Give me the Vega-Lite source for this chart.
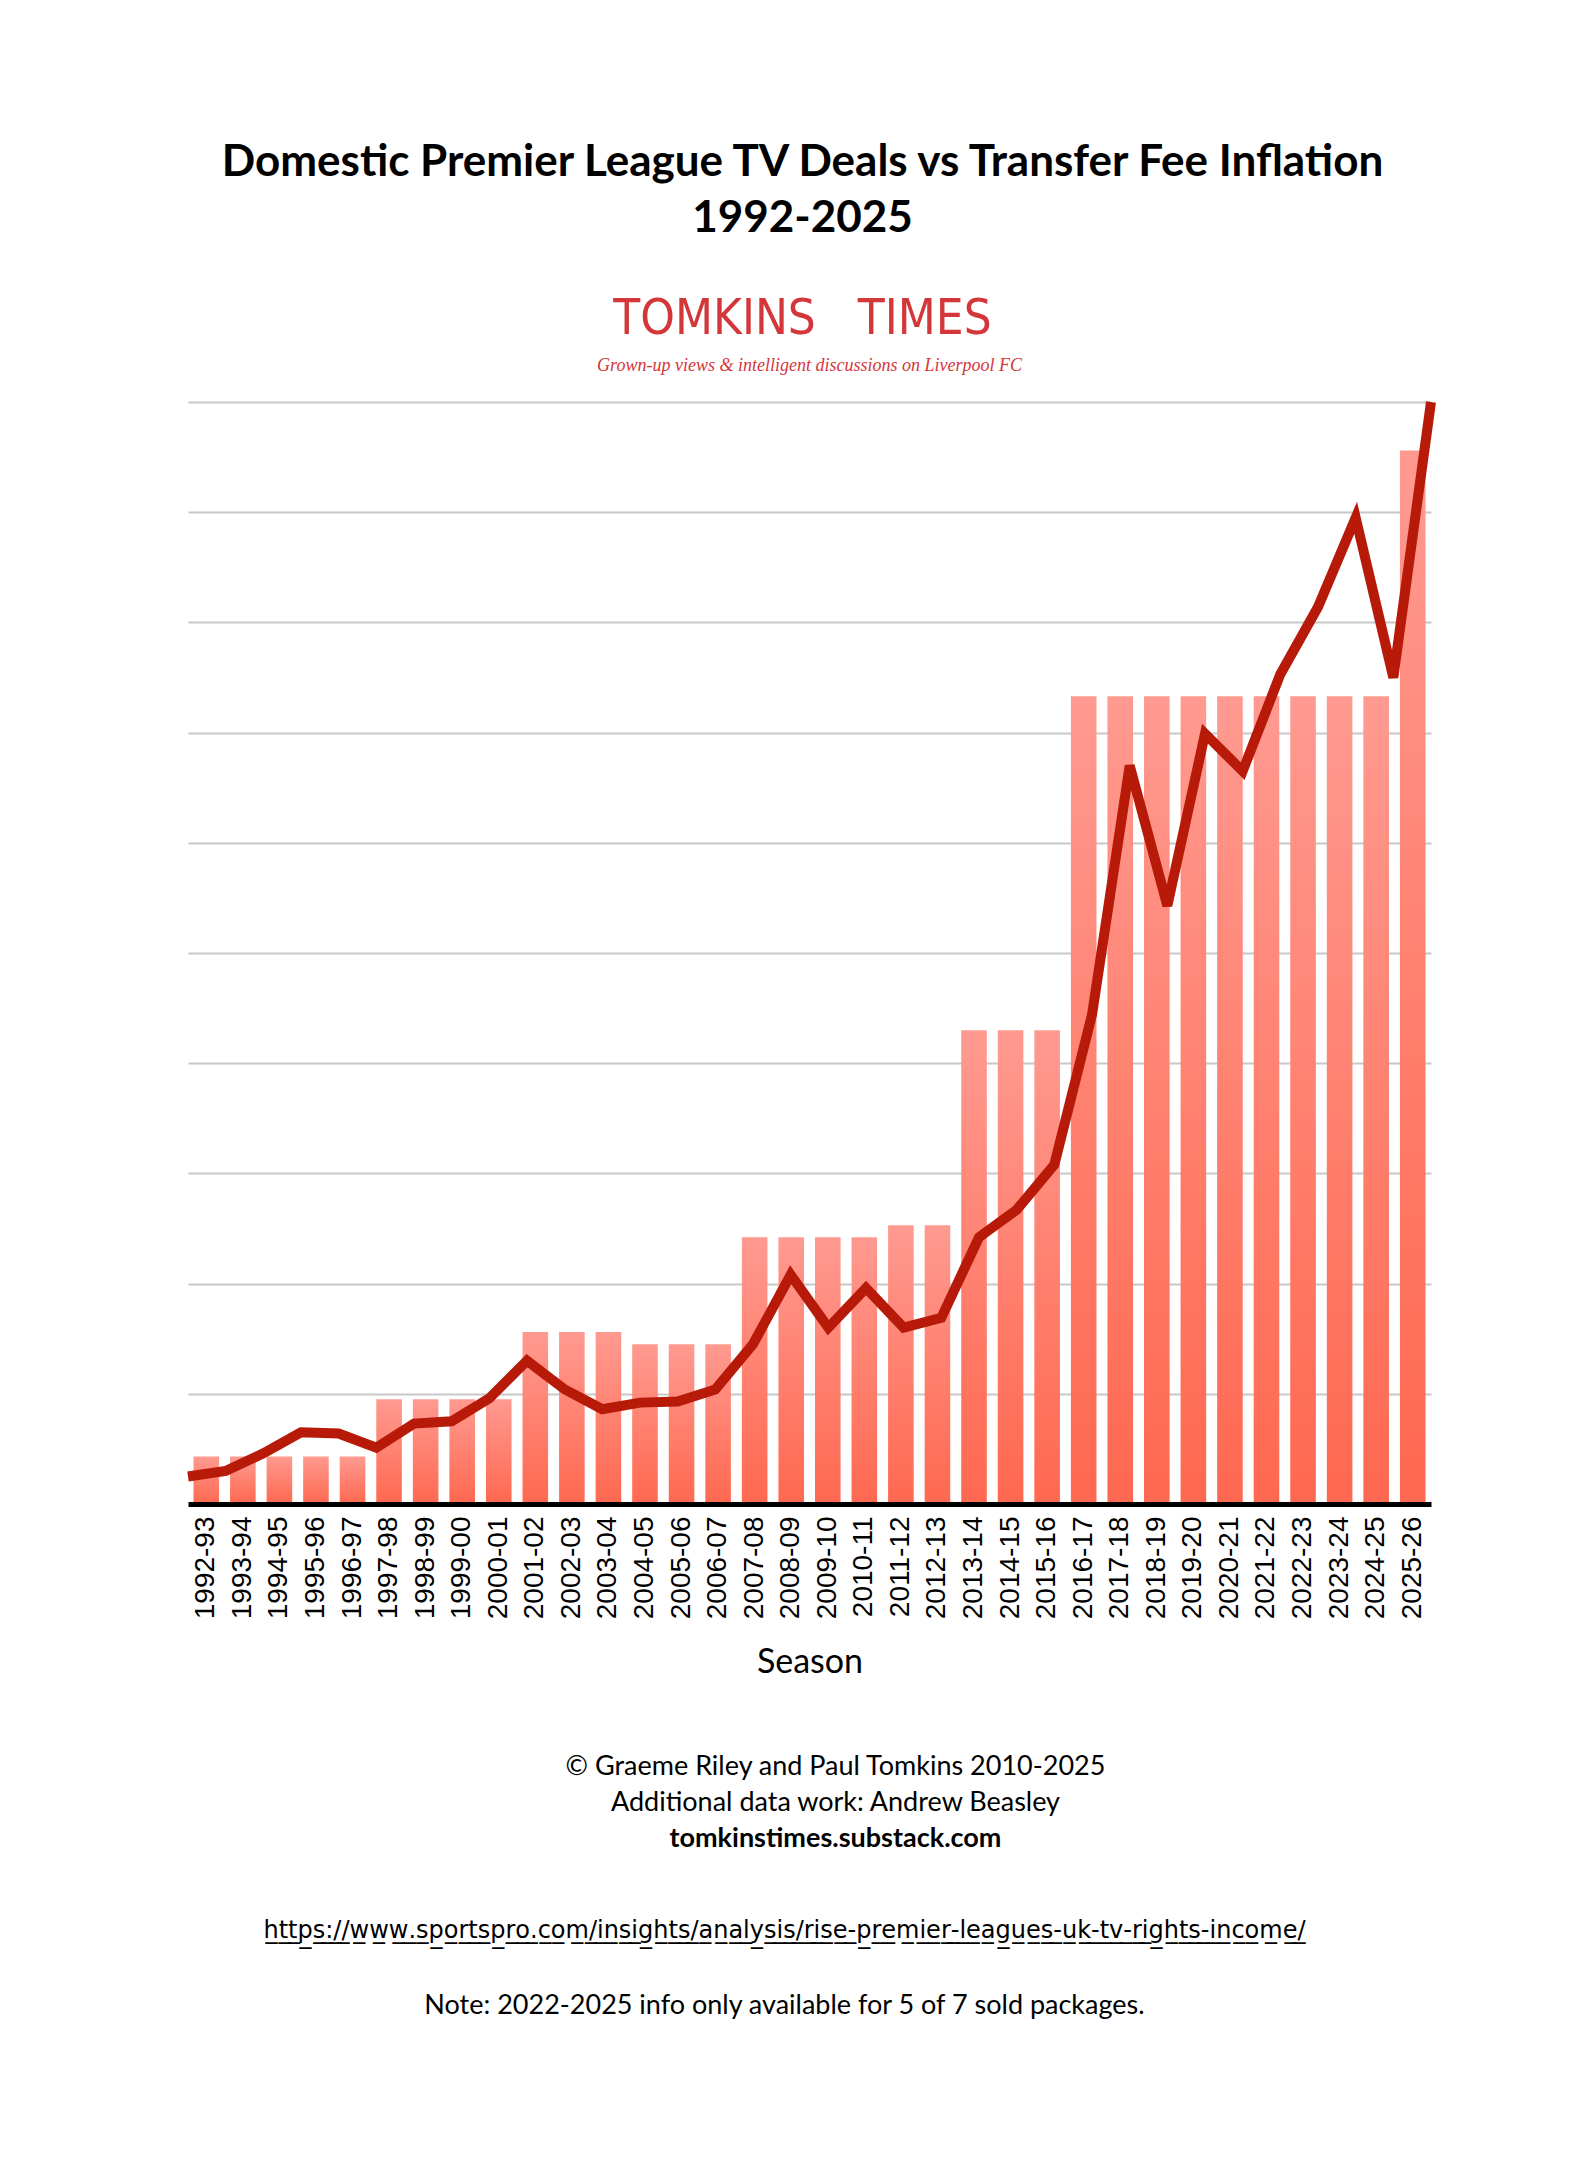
{
  "$schema": "https://vega.github.io/schema/vega-lite/v6.json",
  "background": "white",
  "padding": {"left": 168, "right": 151, "top": 141, "bottom": 0},
  "title": {
    "text": ["Domestic Premier League TV Deals vs Transfer Fee Inflation", "1992-2025"],
    "font": "Lato",
    "fontSize": 44,
    "fontWeight": "bold",
    "lineHeight": 56,
    "color": "black",
    "anchor": "middle",
    "dx": -7,
    "subtitle": "TOMKINS\u00a0\u00a0\u00a0TIMES",
    "subtitleFont": "Liberation Sans Narrow, DejaVu Sans Condensed, Roboto Condensed, Roboto",
    "subtitleFontSize": 49,
    "subtitleFontWeight": "normal",
    "subtitleColor": "#D4373A",
    "subtitlePadding": 54,
    "offset": 13
  },
  "spacing": 0,
  "vconcat": [
    {
      "title": {
        "text": "Grown-up views & intelligent discussions on Liverpool FC",
        "font": "Liberation Serif",
        "fontStyle": "italic",
        "fontWeight": "normal",
        "fontSize": 18,
        "color": "#D4373A",
        "anchor": "middle",
        "offset": 7
      },
      "width": 1243,
      "height": 1102,
      "data": {
        "values": [
          {"season": "1992-93", "tv": 0.43, "fee": 0.25},
          {"season": "1993-94", "tv": 0.43, "fee": 0.3},
          {"season": "1994-95", "tv": 0.43, "fee": 0.46},
          {"season": "1995-96", "tv": 0.43, "fee": 0.65},
          {"season": "1996-97", "tv": 0.43, "fee": 0.64},
          {"season": "1997-98", "tv": 0.95, "fee": 0.51},
          {"season": "1998-99", "tv": 0.95, "fee": 0.73},
          {"season": "1999-00", "tv": 0.95, "fee": 0.75},
          {"season": "2000-01", "tv": 0.95, "fee": 0.96},
          {"season": "2001-02", "tv": 1.56, "fee": 1.3},
          {"season": "2002-03", "tv": 1.56, "fee": 1.04},
          {"season": "2003-04", "tv": 1.56, "fee": 0.86},
          {"season": "2004-05", "tv": 1.45, "fee": 0.92},
          {"season": "2005-06", "tv": 1.45, "fee": 0.93},
          {"season": "2006-07", "tv": 1.45, "fee": 1.04},
          {"season": "2007-08", "tv": 2.42, "fee": 1.45},
          {"season": "2008-09", "tv": 2.42, "fee": 2.08},
          {"season": "2009-10", "tv": 2.42, "fee": 1.6},
          {"season": "2010-11", "tv": 2.42, "fee": 1.96},
          {"season": "2011-12", "tv": 2.53, "fee": 1.6},
          {"season": "2012-13", "tv": 2.53, "fee": 1.69},
          {"season": "2013-14", "tv": 4.3, "fee": 2.42},
          {"season": "2014-15", "tv": 4.3, "fee": 2.67},
          {"season": "2015-16", "tv": 4.3, "fee": 3.08},
          {"season": "2016-17", "tv": 7.33, "fee": 4.44},
          {"season": "2017-18", "tv": 7.33, "fee": 6.7},
          {"season": "2018-19", "tv": 7.33, "fee": 5.43},
          {"season": "2019-20", "tv": 7.33, "fee": 6.99},
          {"season": "2020-21", "tv": 7.33, "fee": 6.65},
          {"season": "2021-22", "tv": 7.33, "fee": 7.53},
          {"season": "2022-23", "tv": 7.33, "fee": 8.14},
          {"season": "2023-24", "tv": 7.33, "fee": 8.95},
          {"season": "2024-25", "tv": 7.33, "fee": 7.5},
          {"season": "2025-26", "tv": 9.56, "fee": 10.0}
        ]
      },
      "layer": [
        {
          "mark": {
            "type": "bar",
            "color": {
              "gradient": "linear",
              "x1": 0, "y1": 0, "x2": 0, "y2": 1,
              "stops": [
                {"offset": 0, "color": "#FF9A90"},
                {"offset": 1, "color": "#FF6850"}
              ]
            }
          },
          "encoding": {
            "x": {
              "field": "season",
              "type": "ordinal",
              "sort": null,
              "scale": {"paddingInner": 0.3, "paddingOuter": 0.15},
              "axis": {
                "title": "Season",
                "titleFont": "Lato",
                "titleFontSize": 34,
                "titleFontWeight": "normal",
                "titleColor": "black",
                "titlePadding": 27,
                "labelAngle": -90,
                "labelFont": "Liberation Sans",
                "labelFontSize": 28,
                "labelColor": "black",
                "labelPadding": 12,
                "ticks": false,
                "domain": true,
                "domainColor": "black",
                "domainWidth": 5,
                "grid": false,
                "zindex": 1
              }
            },
            "y": {
              "field": "tv",
              "type": "quantitative",
              "scale": {"domain": [0, 10], "nice": false},
              "axis": {
                "title": null,
                "labels": false,
                "ticks": false,
                "domain": false,
                "grid": true,
                "gridColor": "#C8C8C8",
                "gridWidth": 2,
                "values": [1, 2, 3, 4, 5, 6, 7, 8, 9, 10]
              }
            }
          }
        },
        {
          "mark": {
            "type": "line",
            "color": "#B81A0A",
            "strokeWidth": 10,
            "strokeJoin": "miter",
            "strokeCap": "butt"
          },
          "encoding": {
            "x": {
              "field": "season",
              "type": "ordinal",
              "sort": null,
              "scale": {"type": "point", "padding": 0},
              "axis": null
            },
            "y": {"field": "fee", "type": "quantitative"}
          }
        }
      ],
      "resolve": {"scale": {"x": "independent"}}
    },
    {
      "width": 1243,
      "height": 144,
      "data": {
        "values": [
          {"line": "© Graeme Riley and Paul Tomkins 2010-2025", "role": "credit"},
          {"line": "Additional data work: Andrew Beasley", "role": "credit"},
          {"line": "tomkinstimes.substack.com", "role": "website"}
        ]
      },
      "encoding": {
        "y": {
          "field": "line",
          "type": "nominal",
          "sort": null,
          "axis": null,
          "scale": {"type": "point", "padding": 1}
        },
        "text": {"field": "line", "type": "nominal"}
      },
      "layer": [
        {
          "transform": [{"filter": "datum.role == 'credit'"}],
          "mark": {"type": "text", "font": "Lato", "fontSize": 27, "color": "black", "dx": 26, "dy": 51}
        },
        {
          "transform": [{"filter": "datum.role == 'website'"}],
          "mark": {"type": "text", "font": "Lato", "fontSize": 27, "fontWeight": "bold", "color": "black", "dx": 26, "dy": 51}
        }
      ]
    },
    {
      "width": 1243,
      "height": 8,
      "data": {
        "values": [
          {"source": "https://www.sportspro.com/insights/analysis/rise-premier-leagues-uk-tv-rights-income/"}
        ]
      },
      "transform": [
        {"calculate": "replace(datum.source, /(.)/g, '$1\u0332')", "as": "underlined"}
      ],
      "mark": {"type": "text", "font": "DejaVu Sans", "fontSize": 24, "color": "black", "dx": -25, "dy": 75},
      "encoding": {"text": {"field": "underlined", "type": "nominal"}}
    },
    {
      "width": 1243,
      "height": 138,
      "data": {
        "values": [
          {"note": "Note: 2022-2025 info only available for 5 of 7 sold packages."}
        ]
      },
      "mark": {"type": "text", "font": "Lato", "fontSize": 27, "color": "black", "dx": -25, "dy": -6},
      "encoding": {"text": {"field": "note", "type": "nominal"}}
    }
  ],
  "config": {
    "view": {"stroke": null}
  }
}
